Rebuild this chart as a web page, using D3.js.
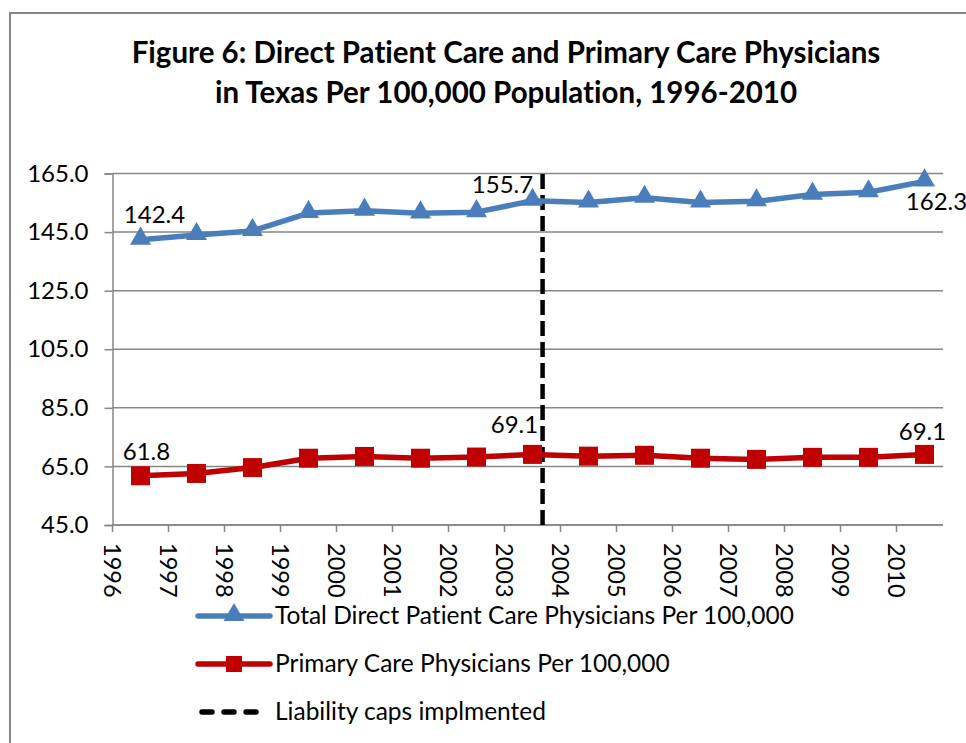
<!DOCTYPE html>
<html>
<head>
<meta charset="utf-8">
<script src="https://cdn.jsdelivr.net/npm/d3@7"></script>
<style>
  body { margin: 0; background: #fff; }
  text { font-family: Lato, "Open Sans", sans-serif; font-variant-ligatures: none; }
</style>
</head>
<body>
<div id="chart"></div>
<script>
// Texas physicians per 100,000 population

var years = ["1996","1997","1998","1999","2000","2001","2002","2003",
             "2004","2005","2006","2007","2008","2009","2010"];

var totalDirect = [142.4, 144.0, 145.4, 151.5, 152.3, 151.4, 151.8, 155.7,
                   155.1, 156.7, 155.1, 155.5, 157.8, 158.6, 162.3];

var primaryCare = [61.8, 62.6, 64.6, 67.8, 68.4, 67.8, 68.2, 69.1,
                   68.5, 68.8, 67.8, 67.4, 68.1, 68.1, 69.1];

// liability caps line: year position and vertical extent
var capYear = 2003.18;
var capRange = [45, 165];

var yTicks = [45, 65, 85, 105, 125, 145, 165];

var seriesNames = ["Total Direct Patient Care Physicians Per 100,000",
                   "Primary Care Physicians Per 100,000",
                   "Liability caps implmented"];

// which points carry a value label (index) and where the label sits
var labelled = [
  {series: 0, i: 0, dx: 14, dy: -17},
  {series: 0, i: 7, dx: -30, dy: -8},
  {series: 0, i: 14, dx: 12, dy: 29},
  {series: 1, i: 0, dx: 6, dy: -16},
  {series: 1, i: 7, dx: -18, dy: -21},
  {series: 1, i: 14, dx: -2, dy: -14}
];

var svgWidth = 966;
var svgHeight = 743;

var plot = {left: 112.5, right: 943, top: 173.5, bottom: 525};

var blue = "#4a7ebb";
var red = "#c00000";
var grid = "#868686";

var svg = d3.select("#chart")
  .append("svg")
  .attr("width", svgWidth)
  .attr("height", svgHeight);

// outer chart border
svg.append("rect")
  .attr("x", 10).attr("y", 13)
  .attr("width", 1000).attr("height", 800)
  .attr("fill", "#fff")
  .attr("stroke", grid)
  .attr("stroke-width", 2);

// title
var title = svg.append("text")
  .attr("text-anchor", "middle")
  .attr("font-weight", "bold")
  .attr("font-size", "29.5px")
  .attr("fill", "#000");
title.append("tspan").attr("x", 506).attr("y", 63)
  .text("Figure 6: Direct Patient Care and Primary Care Physicians");
title.append("tspan").attr("x", 506).attr("y", 103)
  .text("in Texas Per 100,000 Population, 1996-2010");

var xScale = d3.scaleBand()
  .domain(years)
  .range([plot.left, plot.left + years.length * 56]);

var bw = xScale.bandwidth();
var xPoint = function(i) { return xScale(years[i]) + bw / 2; };

var yScale = d3.scaleLinear()
  .domain([45, 165])
  .range([plot.bottom, plot.top]);

// gridlines
svg.append("g")
  .selectAll("line")
  .data(yTicks)
  .enter()
  .append("line")
  .attr("x1", plot.left).attr("x2", plot.right)
  .attr("y1", d => yScale(d)).attr("y2", d => yScale(d))
  .attr("stroke", grid)
  .attr("stroke-width", 1.5);

// y axis
var leftAxis = d3.axisLeft(yScale)
  .tickValues(yTicks)
  .tickFormat(d3.format(".1f"))
  .tickSize(8)
  .tickPadding(16);

var yAxisG = svg.append("g")
  .attr("transform", `translate(${plot.left},0)`)
  .call(leftAxis);
yAxisG.select(".domain").attr("stroke", grid).attr("stroke-width", 1.5);
yAxisG.selectAll(".tick line").attr("stroke", grid).attr("stroke-width", 1.5);
yAxisG.selectAll(".tick text")
  .attr("font-family", "Lato, sans-serif")
  .attr("font-size", "24px")
  .attr("fill", "#000");

// x axis: labels sit on the tick marks at the start of each band
var bottomAxis = d3.axisBottom(xScale).tickSize(0).tickFormat("");
var xAxisG = svg.append("g")
  .attr("transform", `translate(0,${plot.bottom})`)
  .call(bottomAxis);
xAxisG.select(".domain").remove();
xAxisG.append("line")
  .attr("x1", plot.left).attr("x2", plot.right)
  .attr("stroke", grid).attr("stroke-width", 1.5);

xAxisG.selectAll(".tick").each(function(d) {
  var g = d3.select(this).attr("transform", `translate(${xScale(d)},0)`);
  g.append("line").attr("y2", 7).attr("stroke", grid).attr("stroke-width", 1.5);
  g.append("text")
    .attr("transform", "translate(0,18) rotate(90)")
    .attr("dy", "0.35em")
    .attr("text-anchor", "start")
    .attr("font-family", "Lato, sans-serif")
    .attr("font-size", "23.5px")
    .attr("fill", "#000")
    .text(d);
});

// liability caps line
var capX = xPoint(0) + (capYear - (+years[0])) * bw;
svg.append("line")
  .attr("x1", capX).attr("x2", capX)
  .attr("y1", yScale(capRange[0])).attr("y2", yScale(capRange[1]))
  .attr("stroke", "#000")
  .attr("stroke-width", 4.5)
  .attr("stroke-dasharray", "15,6");

// series lines
var line = d3.line()
  .x((d, i) => xPoint(i))
  .y(d => yScale(d));

svg.append("path")
  .datum(totalDirect)
  .attr("d", line)
  .attr("fill", "none")
  .attr("stroke", blue)
  .attr("stroke-width", 5.5)
  .attr("stroke-linejoin", "round");

svg.append("path")
  .datum(primaryCare)
  .attr("d", line)
  .attr("fill", "none")
  .attr("stroke", red)
  .attr("stroke-width", 5.5)
  .attr("stroke-linejoin", "round");

var triangle = d3.symbol().type(d3.symbolTriangle).size(190);

svg.append("g")
  .selectAll("path")
  .data(totalDirect)
  .enter()
  .append("path")
  .attr("d", triangle)
  .attr("transform", (d, i) => `translate(${xPoint(i)},${yScale(d) - 1})`)
  .attr("fill", blue);

svg.append("g")
  .selectAll("rect")
  .data(primaryCare)
  .enter()
  .append("rect")
  .attr("x", (d, i) => xPoint(i) - 9.5)
  .attr("y", d => yScale(d) - 9.5)
  .attr("width", 19)
  .attr("height", 19)
  .attr("fill", red);

// value labels
var allSeries = [totalDirect, primaryCare];
svg.append("g")
  .selectAll("text")
  .data(labelled)
  .enter()
  .append("text")
  .attr("x", d => xPoint(d.i) + d.dx)
  .attr("y", d => yScale(allSeries[d.series][d.i]) + d.dy)
  .attr("text-anchor", "middle")
  .attr("font-size", "24px")
  .attr("fill", "#000")
  .text(d => allSeries[d.series][d.i].toFixed(1));

// legend
var legendRows = [616, 664, 712];
var legend = svg.append("g");

legend.append("line")
  .attr("x1", 198).attr("x2", 270)
  .attr("y1", legendRows[0]).attr("y2", legendRows[0])
  .attr("stroke", blue).attr("stroke-width", 5.5).attr("stroke-linecap", "round");
legend.append("path")
  .attr("d", triangle)
  .attr("transform", `translate(234,${legendRows[0] - 1})`)
  .attr("fill", blue);

legend.append("line")
  .attr("x1", 198).attr("x2", 270)
  .attr("y1", legendRows[1]).attr("y2", legendRows[1])
  .attr("stroke", red).attr("stroke-width", 5.5).attr("stroke-linecap", "round");
legend.append("rect")
  .attr("x", 234 - 8).attr("y", legendRows[1] - 8)
  .attr("width", 16).attr("height", 16)
  .attr("fill", red);

legend.append("line")
  .attr("x1", 202).attr("x2", 258)
  .attr("y1", legendRows[2]).attr("y2", legendRows[2])
  .attr("stroke", "#000").attr("stroke-width", 5.5)
  .attr("stroke-linecap", "round")
  .attr("stroke-dasharray", "10,12");

legend.selectAll("text")
  .data(seriesNames)
  .enter()
  .append("text")
  .attr("x", 275)
  .attr("y", (d, i) => legendRows[i] + 8)
  .attr("font-size", "24.5px")
  .attr("fill", "#000")
  .text(d => d);
</script>
</body>
</html>
